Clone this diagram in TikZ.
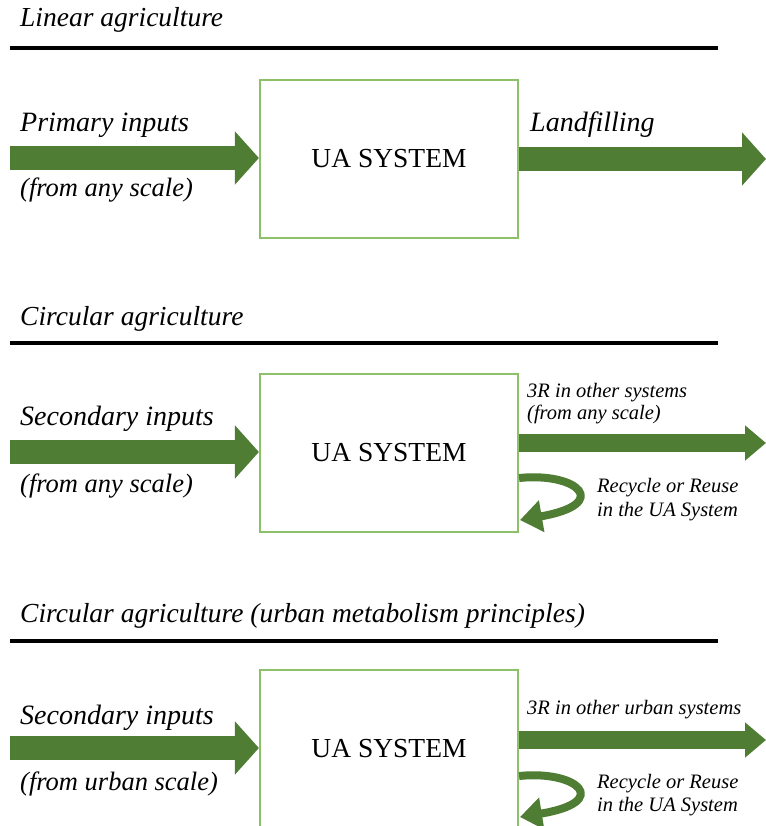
\documentclass[tikz,border=0pt]{standalone}
\usepackage{fontspec}
\setmainfont{Liberation Serif}
\usetikzlibrary{arrows.meta}
\definecolor{flowgreen}{RGB}{80,125,52}
\definecolor{boxgreen}{RGB}{140,192,105}
\tikzset{
  title/.style={anchor=base west, inner sep=0pt, font=\fontsize{27.5}{30}\selectfont\itshape},
  flowlabel/.style={anchor=base west, inner sep=0pt, font=\fontsize{28}{31}\selectfont\itshape},
  notelabel/.style={anchor=base west, inner sep=0pt, font=\fontsize{26.5}{29}\selectfont\itshape},
  smalllabel/.style={anchor=base west, inner sep=0pt, font=\fontsize{20.5}{23}\selectfont\itshape},
  rulebar/.style={line width=3.5pt, black},
  uabox/.style={draw=boxgreen, line width=2.2pt, minimum width=258pt, minimum height=158pt,
    font=\fontsize{27.5}{30}\selectfont, inner sep=0pt},
  bigflow/.style={draw=flowgreen, line width=24pt, -{Triangle[length=24pt,width=52pt]}},
  thinflow/.style={draw=flowgreen, line width=18pt, -{Triangle[length=21pt,width=34pt]}},
  loopflow/.style={draw=flowgreen, line width=8pt, -{Triangle[length=22pt,width=31pt]}},
}
\begin{document}
\begin{tikzpicture}[x=1pt,y=-1pt]
\useasboundingbox (0,0) rectangle (765,826);

% ---------- Linear agriculture ----------
\node[title] (t1) at (20,27) {Linear agriculture};
\coordinate (r1a) at (10,48);
\coordinate (r1b) at (718,48);
\draw[rulebar] (r1a) -- (r1b);

\node[uabox] (box1) at (389,159) {UA SYSTEM};
\coordinate (in1) at (10,158);
\coordinate (out1) at (766,159);
\draw[bigflow] (in1) -- (box1.west |- in1);
\draw[bigflow] (box1.east |- out1) -- (out1);
\node[flowlabel] (l1a) at (20,132) {Primary inputs};
\node[notelabel] (l1b) at (20,197) {(from any scale)};
\node[flowlabel] (l1c) at (530,132) {Landfilling};

% ---------- Circular agriculture ----------
\node[title] (t2) at (20,325) {Circular agriculture};
\coordinate (r2a) at (10,343);
\coordinate (r2b) at (718,343);
\draw[rulebar] (r2a) -- (r2b);

\node[uabox] (box2) at (389,453) {UA SYSTEM};
\coordinate (in2) at (10,452);
\coordinate (out2) at (766,443);
\draw[bigflow] (in2) -- (box2.west |- in2);
\draw[thinflow] (box2.east |- out2) -- (out2);
\node[flowlabel] (l2a) at (20,425) {Secondary inputs};
\node[notelabel] (l2b) at (20,492) {(from any scale)};
\node[smalllabel] (l2c) at (527,397) {3R in other systems};
\node[smalllabel] (l2d) at (527,419) {(from any scale)};
\coordinate (loop2s) at (518,478);
\coordinate (loop2e) at (520,520);
\draw[loopflow] (box2.east |- loop2s) .. controls (578,472) and (612,504) .. (loop2e);
\node[smalllabel] (l2e) at (597,492) {Recycle or Reuse};
\node[smalllabel] (l2f) at (597,516) {in the UA System};

% ---------- Circular agriculture (urban metabolism) ----------
\node[title] (t3) at (20,622) {Circular agriculture (urban metabolism principles)};
\coordinate (r3a) at (10,641);
\coordinate (r3b) at (718,641);
\draw[rulebar] (r3a) -- (r3b);

\node[uabox] (box3) at (389,749) {UA SYSTEM};
\coordinate (in3) at (10,748);
\coordinate (out3) at (766,740);
\draw[bigflow] (in3) -- (box3.west |- in3);
\draw[thinflow] (box3.east |- out3) -- (out3);
\node[flowlabel] (l3a) at (20,724) {Secondary inputs};
\node[notelabel] (l3b) at (20,790) {(from urban scale)};
\node[smalllabel] (l3c) at (527,714) {3R in other urban systems};
\coordinate (loop3s) at (518,776);
\coordinate (loop3e) at (520,817);
\draw[loopflow] (box3.east |- loop3s) .. controls (578,770) and (612,802) .. (loop3e);
\node[smalllabel] (l3e) at (597,788) {Recycle or Reuse};
\node[smalllabel] (l3f) at (597,811) {in the UA System};
\end{tikzpicture}
\end{document}
